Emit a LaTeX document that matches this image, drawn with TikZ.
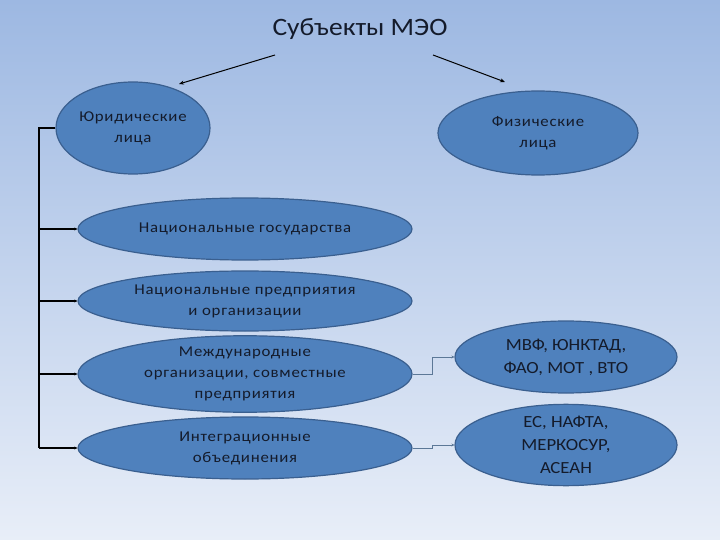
\documentclass[tikz,border=0pt]{standalone}
\usepackage{fontspec}
\setmainfont{Carlito}
\newfontfamily\ellfont[FakeStretch=1.12,LetterSpace=5]{Carlito}
\newfontfamily\titlefont[FakeStretch=1.1]{Carlito}
\usetikzlibrary{shapes.geometric,arrows.meta}
\definecolor{ellfill}{HTML}{4F81BD}
\definecolor{elldraw}{HTML}{3A5F8F}
\definecolor{txt}{HTML}{141B2B}
\definecolor{bgtop}{HTML}{9DB8E2}
\definecolor{bgbot}{HTML}{E8EEF8}
\definecolor{thinline}{HTML}{5C7897}
\tikzset{
  ell/.style={ellipse, fill=ellfill, draw=elldraw, line width=1.2pt, inner sep=0pt, text=txt, align=center, font=\ellfont\fontsize{15}{21}\selectfont},
  big/.style={font=\titlefont\fontsize{17}{23}\selectfont},
  tree/.style={line width=1.3pt, draw=black},
  treearrow/.style={tree, -{Stealth[length=3pt,width=3pt]}},
  thinarrow/.style={line width=0.8pt, draw=thinline, -{Stealth[length=3pt,width=3pt]}},
  toparrow/.style={line width=1pt, draw=black, -{Stealth[length=5pt,width=4pt]}}
}
\begin{document}
\begin{tikzpicture}[x=1pt,y=-1pt]
\shade[top color=bgtop, bottom color=bgbot] (0,0) rectangle (720,540);
\useasboundingbox (0,0) rectangle (720,540);
\node[text=txt, font=\titlefont\fontsize{25}{28}\selectfont] (title) at (360,29) {Субъекты МЭО};
\coordinate (a1) at (275,55);
\coordinate (a1e) at (179,84);
\coordinate (a2) at (433,55);
\coordinate (a2e) at (505,82);
\node[ell, minimum width=154, minimum height=92] (jur) at (133,128) {Юридические\\лица};
\node[ell, minimum width=200, minimum height=84] (fiz) at (538,133) {Физические\\лица};
\node[ell, minimum width=334, minimum height=62] (ng) at (245,229) {Национальные государства};
\node[ell, minimum width=334, minimum height=60] (np) at (245,301) {Национальные предприятия\\и организации};
\node[ell, minimum width=334, minimum height=62] (mo) at (245,374) {Международные\\организации, совместные\\предприятия};
\node[ell, minimum width=334, minimum height=62] (io) at (245,448) {Интеграционные\\объединения};
\node[ell, big, minimum width=222, minimum height=72] (mvf) at (566,357) {МВФ, ЮНКТАД,\\ФАО, МОТ , ВТО};
\node[ell, big, minimum width=222, minimum height=80] (es) at (566,445) {ЕС, НАФТА,\\МЕРКОСУР,\\АСЕАН};
\draw[toparrow] (a1) -- (a1e);
\draw[toparrow] (a2) -- (a2e);
\coordinate (spine) at (39,0);
\draw[tree] (jur.west) -- (spine |- jur.west) -- (spine |- io.west);
\draw[treearrow] (spine |- ng.west) -- (ng.west);
\draw[treearrow] (spine |- np.west) -- (np.west);
\draw[treearrow] (spine |- mo.west) -- (mo.west);
\draw[treearrow] (spine |- io.west) -- (io.west);
\draw[thinarrow] (mo.east) -- ++(20,0) |- (mvf.west);
\draw[thinarrow] (io.east) -- ++(20,0) |- (es.west);
\end{tikzpicture}
\end{document}
